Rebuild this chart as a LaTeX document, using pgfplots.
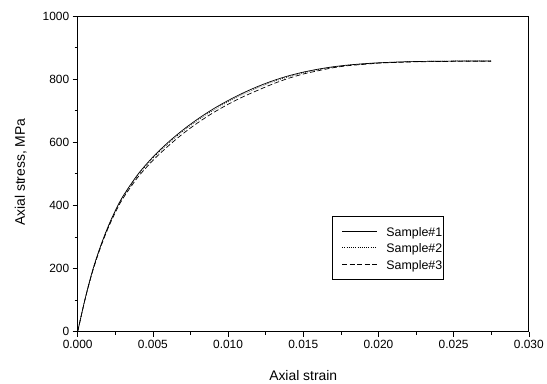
\documentclass[border=0pt]{standalone}
\usepackage{pgfplots}
\pgfplotsset{compat=1.18}
\usepackage{fontspec}
\setmainfont{Liberation Sans}
\pgfplotstableread{
x s1 s2 s3
0 0 0 0
0.0005 105 105 104
0.001 195 194 192
0.0015 268 266 264
0.002 330 328 325
0.0025 383 381 377
0.003 428 425 421
0.004 498 495 489
0.005 553 549 542
0.006 599 595 587
0.007 639 635 627
0.008 674 670 662
0.009 705 701 693
0.010 732 728 720
0.011 756 752 744
0.012 777 773 765
0.013 795 792 785
0.014 810 807 802
0.015 822 820 816
0.016 831.5 830 826.5
0.017 839 838 836
0.018 844.5 844 842.5
0.019 848.5 848 846.5
0.020 851.5 851 850.5
0.021 853.5 853 852.5
0.022 855 855 854
0.023 856 856 855
0.025 857 857 856
0.0275 857.5 857.5 856.5
}\datatable
\begin{document}
\begin{tikzpicture}
\begin{axis}[
  scale only axis,
  width=453bp, height=317bp,
  xmin=0, xmax=0.030, ymin=0, ymax=1000,
  xtick={0,0.005,...,0.0301},
  ytick={0,200,...,1000},
  minor tick num=1,
  tick pos=left,
  tick align=outside,
  major tick length=5bp,
  minor tick length=3bp,
  tick style={black, line width=0.6pt},
  axis line style={line width=0.7pt},
  scaled x ticks=false,
  xticklabel style={/pgf/number format/.cd, fixed, fixed zerofill, precision=3},
  /pgf/number format/1000 sep={},
  /pgf/number format/assume math mode=true,
  ticklabel style={font=\fontsize{12}{14}\selectfont},
  label style={font=\fontsize{14}{16}\selectfont},
  xlabel={Axial strain},
  ylabel={Axial stress, MPa},
  xlabel style={at={(axis description cs:0.5,-0.154)}, anchor=base},
  ylabel style={at={(axis description cs:-0.126,0.505)}, anchor=center},
  legend style={at={(axis description cs:0.563,0.366)}, anchor=north west,
    draw=black, line width=0.6pt, font=\fontsize{12.5}{14}\selectfont,
    inner xsep=10bp, inner ysep=7bp, row sep=0.5bp,
    nodes={inner sep=0pt, text height=13bp, text depth=3bp},
    /tikz/every odd column/.append style={column sep=9bp}},
  legend cell align=left,
  legend image code/.code={\draw[#1] (0bp,0bp) -- (35bp,0bp);},
]
\addplot[black, line width=0.7pt, smooth, tension=0.5] table[x=x, y=s1] {\datatable};
\addlegendentry{\makebox[47bp][l]{Sample\#1}}
\addplot[black, line width=0.7pt, smooth, tension=0.5, dash pattern=on 0.8pt off 1.4pt] table[x=x, y=s2] {\datatable};
\addlegendentry{\makebox[47bp][l]{Sample\#2}}
\addplot[black, line width=0.7pt, smooth, tension=0.5, dash pattern=on 5pt off 2.5pt] table[x=x, y=s3] {\datatable};
\addlegendentry{\makebox[47bp][l]{Sample\#3}}
\end{axis}
\path (current axis.south west) ++(-78bp,-50bp) coordinate (bl);
\path (current axis.north east) ++(16bp,16bp) coordinate (tr);
\path (bl) rectangle (tr);
\end{tikzpicture}
\end{document}
